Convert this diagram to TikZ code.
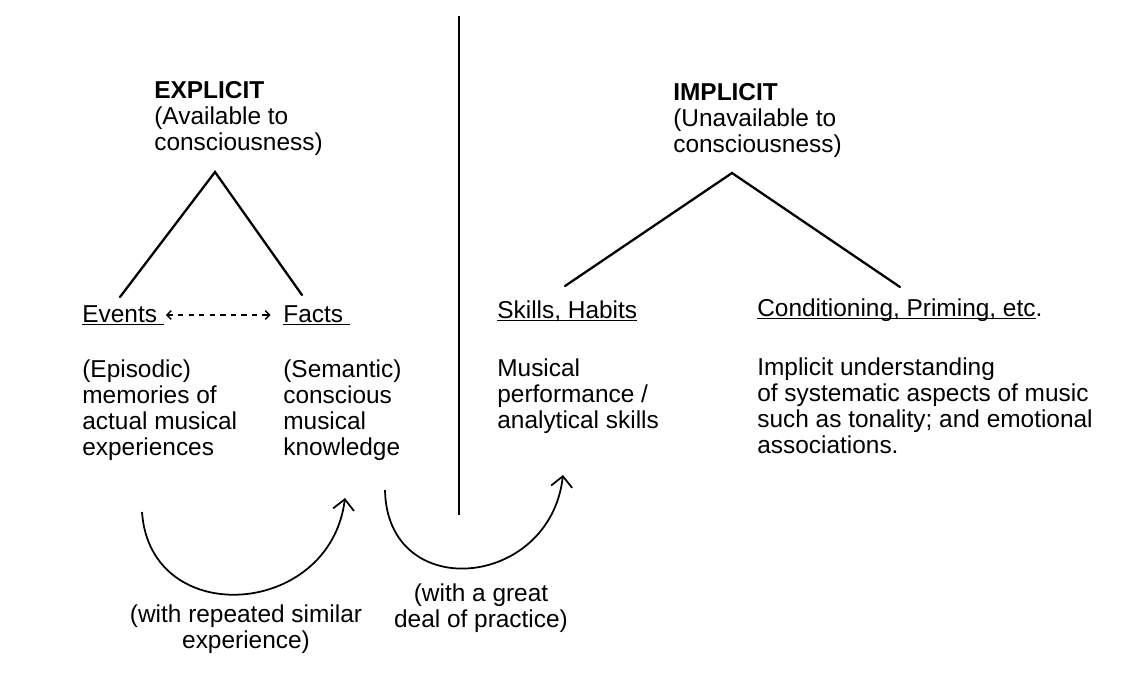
\documentclass[tikz,border=0pt]{standalone}
\usepackage{fontspec}
\setmainfont{Liberation Sans}
\usepackage{tikz}
\usetikzlibrary{arrows.meta}
\usetikzlibrary{positioning}
\tikzset{txt/.style = {inner sep = 0, align = left,
                       font = \fontsize{13.9}{14.8}\selectfont}}
\tikzset{tri/.style = {line width = 1.3pt, line cap = round, line join = miter}}
\tikzset{curl/.style = {line width = 1pt,
                        -{Straight Barb[length = 6pt, width = 12pt, line width = 1pt]}}}
\tikzset{pair/.style = {line width = 0.8pt, dash pattern = on 3pt off 3pt,
                        {Straight Barb[length = 2.5pt, width = 5pt]}-{Straight Barb[length = 2.5pt, width = 5pt]}}}
\newsavebox{\undlbox}
\newcommand{\undl}[1]{\sbox{\undlbox}{#1}\rlap{\rule[-1.6pt]{\wd\undlbox}{0.6pt}}\usebox{\undlbox}}

\begin{document}
\begin{tikzpicture}[x = 0.02cm, y = -0.02cm]
    \useasboundingbox (0, 0) rectangle (1143, 677);

    % divider
    \draw [line width = 1pt] (459, 16) -- (459, 515);

    % explicit side (base = last line)
    \node [txt, anchor = base west] (explicit) at (154, 150)
        {\textbf{EXPLICIT}\\(Available to\\consciousness)};
    \node [txt, anchor = base west] (events) at (82, 322) {\undl{Events\ }};
    \node [txt, anchor = base west] (facts) at (283, 322) {\undl{Facts\ }};
    \node [txt, anchor = base west] (episodic) at (82, 455)
        {(Episodic)\\memories of\\actual musical\\experiences};
    \node [txt, anchor = base west] (semantic) at (283, 455)
        {(Semantic)\\conscious\\musical\\knowledge};

    \coordinate (exTop) at (215, 172);
    \coordinate (exLeft) at (120, 297);
    \coordinate (exRight) at (302, 295);
    \draw [tri] (exLeft) -- (exTop) -- (exRight);
    \draw [pair, shorten < = 1pt, shorten > = 7pt] (events.east) -- (facts.west);

    % implicit side
    \node [txt, anchor = base west] (implicit) at (673, 152)
        {\textbf{IMPLICIT}\\(Unavailable to\\consciousness)};
    \node [txt, anchor = base west] (skills) at (497, 318) {\undl{Skills, Habits}};
    \node [txt, anchor = base west] (conditioning) at (757, 316)
        {\undl{Conditioning, Priming, etc}.};
    \node [txt, anchor = base west] (musical) at (497, 428)
        {Musical\\performance /\\analytical skills};
    \node [txt, anchor = base west] (understanding) at (757, 453)
        {Implicit understanding\\of systematic aspects of music\\such as tonality; and emotional\\associations.};

    \coordinate (imTop) at (732, 173);
    \coordinate (imLeft) at (565, 286);
    \coordinate (imRight) at (900, 287);
    \draw [tri] (imLeft) -- (imTop) -- (imRight);

    % transitions
    \coordinate (repStart) at (142, 512);
    \coordinate (repEnd) at (345, 498);
    \draw [curl] (repStart) .. controls +(8, 118) and +(-15, 120) .. (repEnd);
    \node [txt, align = center, anchor = base] (repeated) at (246, 648)
        {(with repeated similar\\experience)};

    \coordinate (pracStart) at (385, 490);
    \coordinate (pracEnd) at (563, 475);
    \draw [curl] (pracStart) .. controls +(2, 114) and +(-13, 114) .. (pracEnd);
    \node [txt, align = center, anchor = base] (practice) at (481, 627)
        {(with a great\\deal of practice)};
\end{tikzpicture}
\end{document}
